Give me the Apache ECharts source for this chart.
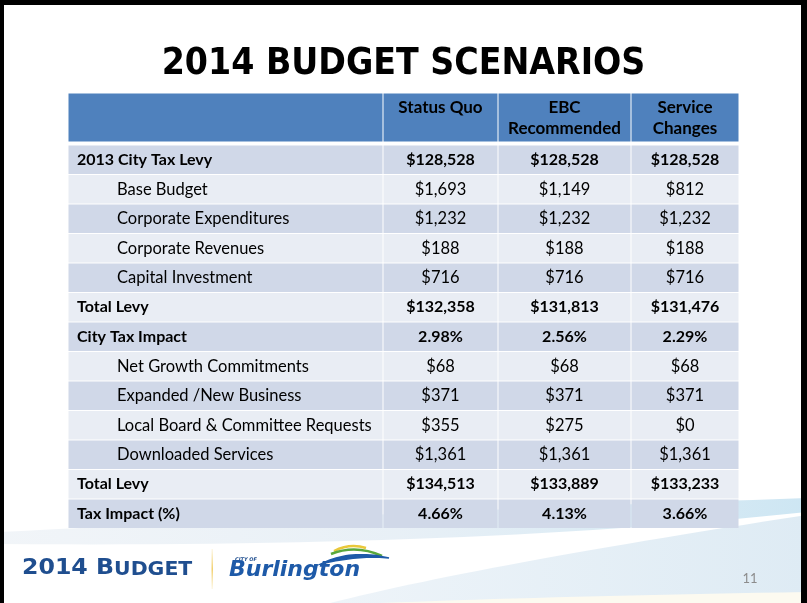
<!DOCTYPE html>
<html><head><meta charset="utf-8">
<script src="https://cdn.jsdelivr.net/npm/echarts@6/dist/echarts.min.js"></script>
<style>html,body{margin:0;padding:0;background:#fff}#c{width:807px;height:603px}</style>
</head><body><div id="c"></div>
<script>
// ---------- data ----------
const chartTitle = '2014 BUDGET SCENARIOS';
const scenarios = ['Status Quo', 'EBC\nRecommended', 'Service\nChanges'];
const rowLabels = ['2013 City Tax Levy', 'Base Budget', 'Corporate Expenditures', 'Corporate Revenues',
  'Capital Investment', 'Total Levy', 'City Tax Impact', 'Net Growth Commitments',
  'Expanded /New Business', 'Local Board & Committee Requests', 'Downloaded Services',
  'Total Levy', 'Tax Impact (%)'];
const rowUnits = ['$', '$', '$', '$', '$', '$', '%', '$', '$', '$', '$', '$', '%'];
const statusQuo      = [128528, 1693, 1232, 188, 716, 132358, 2.98, 68, 371, 355, 1361, 134513, 4.66];
const ebcRecommended = [128528, 1149, 1232, 188, 716, 131813, 2.56, 68, 371, 275, 1361, 133889, 4.13];
const serviceChanges = [128528,  812, 1232, 188, 716, 131476, 2.29, 68, 371,   0, 1361, 133233, 3.66];
const pageNumber = '11';

// ---------- layout & style ----------
const boldRows = [0, 5, 6, 11, 12];
const colWidths = [315, 115, 133, 108];
const headerHeight = 49, headerGap = 3, rowHeight = 29.5;
const colEdges = [0];
colWidths.forEach(w => colEdges.push(colEdges[colEdges.length - 1] + w));
const tableWidth = colEdges[colEdges.length - 1];
const tableHeight = headerHeight + headerGap + rowLabels.length * rowHeight;
const HEADER = '#4F81BD', DARK = '#D0D8E8', LIGHT = '#E9EDF4';
const BODY_FONT = 'Lato';

const seriesValues = [statusQuo, ebcRecommended, serviceChanges];
function fmt(v, unit) {
  if (unit === '%') return v.toFixed(2) + '%';
  return '$' + v.toLocaleString('en-US');
}

const cells = [];
for (let r = -1; r < rowLabels.length; r++) {
  for (let c = 0; c < colWidths.length; c++) cells.push([c, r]);
}

function renderItem(params, api) {
  const c = api.value(0), r = api.value(1);
  let y0, y1;
  if (r < 0) { y0 = 0; y1 = headerHeight; }
  else { y0 = headerHeight + headerGap + r * rowHeight; y1 = y0 + rowHeight; }
  const p0 = api.coord([colEdges[c], y0]);
  const p1 = api.coord([colEdges[c + 1], y1]);
  const left = Math.min(p0[0], p1[0]), top = Math.min(p0[1], p1[1]);
  const w = Math.abs(p1[0] - p0[0]), h = Math.abs(p1[1] - p0[1]);
  const fill = r < 0 ? HEADER : (r % 2 === 0 ? DARK : LIGHT);
  const children = [{
    type: 'rect',
    shape: { x: left + 0.5, y: top + 0.5, width: w - 1, height: h - 1 },
    style: { fill: fill }
  }];
  if (r < 0) {
    if (c > 0) {
      children.push({
        type: 'text',
        style: {
          text: scenarios[c - 1], x: left + w / 2, y: top + 4.5,
          align: 'center', verticalAlign: 'top',
          font: 'bold 17px ' + BODY_FONT, lineHeight: 21, fill: '#000'
        }
      });
    }
  } else {
    const bold = boldRows.indexOf(r) >= 0;
    const font = bold ? 'bold 16px ' + BODY_FONT : '16.5px ' + BODY_FONT;
    if (c === 0) {
      children.push({
        type: 'text',
        style: {
          text: rowLabels[r], x: left + (bold ? 9 : 49), y: top + h / 2,
          align: 'left', verticalAlign: 'middle', font: font, fill: '#000'
        }
      });
    } else {
      children.push({
        type: 'text',
        style: {
          text: fmt(seriesValues[c - 1][r], rowUnits[r]), x: left + w / 2, y: top + h / 2,
          align: 'center', verticalAlign: 'middle', font: font, fill: '#000'
        }
      });
    }
  }
  return { type: 'group', children: children };
}

// decoration helper: sample quadratic curves into polygon points
function quad(p0, cp, p1, n) {
  const pts = [];
  for (let i = 0; i <= n; i++) {
    const t = i / n, u = 1 - t;
    pts.push([u * u * p0[0] + 2 * u * t * cp[0] + t * t * p1[0], u * u * p0[1] + 2 * u * t * cp[1] + t * t * p1[1]]);
  }
  return pts;
}
const band1 = quad([0, 532], [400, 512], [807, 498], 30).concat(quad([807, 512], [470, 548], [0, 544], 30));
const band2 = quad([330, 603], [480, 565], [807, 515], 30).concat([[807, 603]]);
const band3 = quad([380, 603], [560, 596], [807, 592], 20).concat([[807, 603]]);
const swooshBlue = quad([321, 564], [350, 549], [389, 558], 20).concat(quad([389, 558], [358, 555], [321, 564], 20));

const chart = echarts.init(document.getElementById('c'), null, { renderer: 'canvas' });
chart.setOption({
  backgroundColor: '#ffffff',
  animation: false,
  title: {
    text: chartTitle, left: 'center', top: 41,
    textStyle: { fontFamily: 'DejaVu Sans Condensed', fontWeight: 'bold', fontSize: 37, color: '#000' }
  },
  grid: { left: 68, top: 93, width: tableWidth, height: tableHeight },
  xAxis: { type: 'value', min: 0, max: tableWidth, show: false },
  yAxis: { type: 'value', min: 0, max: tableHeight, inverse: true, show: false },
  series: [{ type: 'custom', renderItem: renderItem, data: cells, z: 5, silent: true }],
  graphic: [
    { type: 'polygon', z: 0, shape: { points: band1 },
      style: { fill: { type: 'linear', x: 0, y: 0, x2: 1, y2: 0, colorStops: [
        { offset: 0, color: 'rgba(232,238,244,0.6)' }, { offset: 0.5, color: 'rgba(226,236,244,0.8)' }, { offset: 1, color: 'rgba(205,230,243,1)' }] } } },
    { type: 'polygon', z: 0, shape: { points: band2 },
      style: { fill: { type: 'linear', x: 0, y: 0, x2: 1, y2: 0, colorStops: [
        { offset: 0, color: 'rgba(238,244,249,1)' }, { offset: 1, color: 'rgba(222,235,244,1)' }] } } },
    { type: 'polygon', z: 0, shape: { points: band3 }, style: { fill: 'rgba(252,250,240,1)' } },
    // border
    { type: 'rect', z: 10, shape: { x: 0, y: 0, width: 807, height: 5 }, style: { fill: '#000' } },
    { type: 'rect', z: 10, shape: { x: 0, y: 0, width: 4, height: 603 }, style: { fill: '#000' } },
    { type: 'rect', z: 10, shape: { x: 801, y: 0, width: 6, height: 603 }, style: { fill: '#000' } },
    // footer logo
    { type: 'text', z: 10, x: 22, y: 579.5, scaleX: 1.075, style: {
        text: '{a|2014 B}{b|UDGET}', x: 0, y: 0, verticalAlign: 'bottom',
        rich: {
          a: { fontFamily: 'DejaVu Sans', fontWeight: 'bold', fontSize: 22, fill: '#1F4E8F', verticalAlign: 'bottom' },
          b: { fontFamily: 'DejaVu Sans', fontWeight: 'bold', fontSize: 19, fill: '#1F4E8F', verticalAlign: 'bottom' }
        } } },
    { type: 'rect', z: 10, shape: { x: 211.5, y: 549, width: 1.5, height: 40 },
      style: { fill: { type: 'linear', x: 0, y: 0, x2: 0, y2: 1, colorStops: [
        { offset: 0, color: 'rgba(246,220,140,0.2)' }, { offset: 0.5, color: 'rgba(242,208,110,1)' }, { offset: 1, color: 'rgba(246,220,140,0.2)' }] } } },
    { type: 'text', z: 10, style: { text: 'CITY OF', x: 235, y: 560, verticalAlign: 'middle',
        font: 'italic bold 5px DejaVu Sans', fill: '#1F4E8F' } },
    { type: 'text', z: 10, style: { text: 'Burlington', x: 229, y: 570.5, verticalAlign: 'middle',
        font: 'italic bold 22px DejaVu Sans', fill: '#1E5AA8' } },
    { type: 'bezierCurve', z: 10, shape: { x1: 334, y1: 551, cpx1: 350, cpy1: 543, x2: 366, y2: 548 },
      style: { fill: 'none', stroke: '#E9C83A', lineWidth: 2.5 } },
    { type: 'bezierCurve', z: 10, shape: { x1: 331, y1: 554, cpx1: 356, cpy1: 544, x2: 382, y2: 556 },
      style: { fill: 'none', stroke: '#5AA83C', lineWidth: 2.5 } },
    { type: 'polygon', z: 10, shape: { points: swooshBlue },
      style: { fill: '#1E5AA8', stroke: '#1E5AA8', lineWidth: 1.5 } },
    { type: 'text', z: 10, style: { text: pageNumber, x: 750, y: 579, align: 'center', verticalAlign: 'middle',
        font: '13px ' + BODY_FONT, fill: '#8C8C8C' } }
  ]
});
</script></body></html>
